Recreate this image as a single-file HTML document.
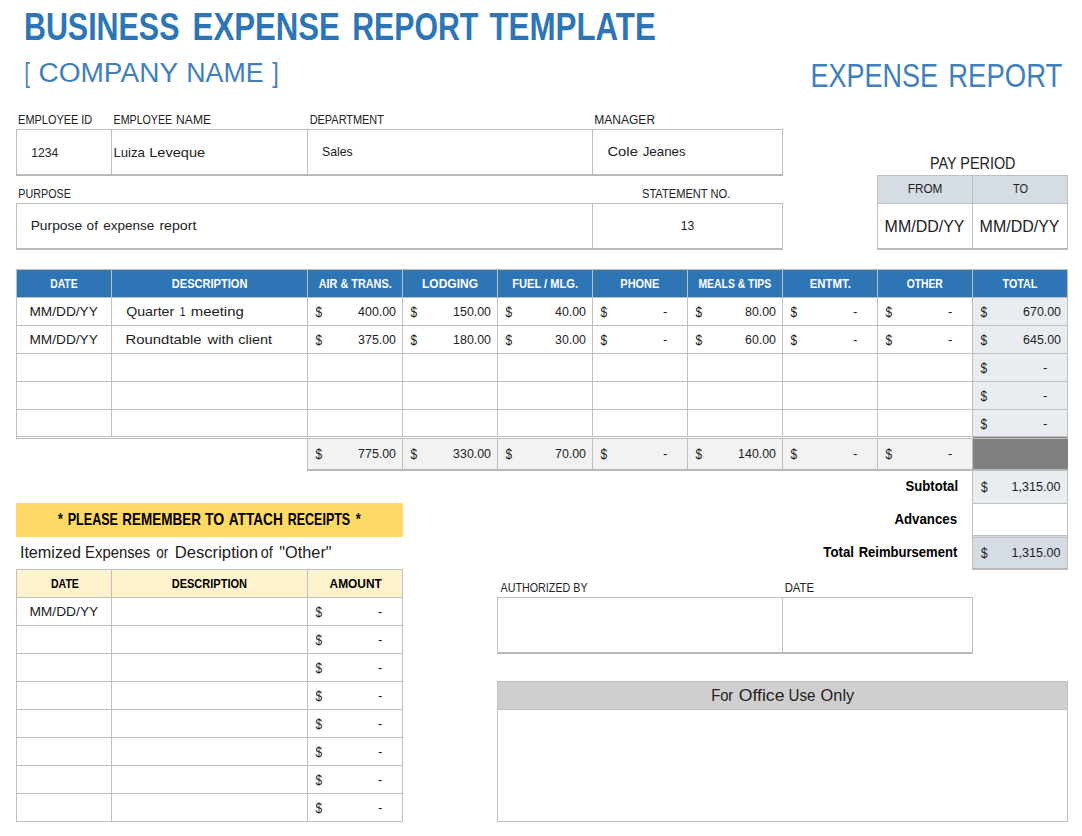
<!DOCTYPE html>
<html><head><meta charset="utf-8"><style>
html,body{margin:0;padding:0;background:#fff;width:1082px;height:836px;overflow:hidden}
svg{display:block;font-family:"Liberation Sans",sans-serif}
</style></head><body>
<svg width="1082" height="836" viewBox="0 0 1082 836">
<g shape-rendering="crispEdges">
<rect x="878" y="176" width="94" height="27" fill="#D6DCE4"/>
<rect x="973" y="176" width="94" height="27" fill="#D6DCE4"/>
<rect x="17" y="270" width="1050" height="27" fill="#2E75B6"/>
<rect x="973" y="298" width="94" height="139" fill="#E9EDF2"/>
<rect x="308" y="439" width="664" height="30" fill="#F2F2F2"/>
<rect x="973" y="437" width="95" height="32" fill="#808080"/>
<rect x="973" y="471" width="94" height="32" fill="#E9EDF2"/>
<rect x="973" y="536" width="94" height="32" fill="#D6DCE4"/>
<rect x="16" y="503" width="387" height="34" fill="#FFD966"/>
<rect x="17" y="570" width="385" height="27" fill="#FFF2CC"/>
<rect x="498" y="682" width="569" height="27" fill="#D0CECE"/>
<rect x="16" y="129" width="767" height="1" fill="#BFBFBF"/>
<rect x="16" y="129" width="1" height="47" fill="#BFBFBF"/>
<rect x="111" y="129" width="1" height="47" fill="#BFBFBF"/>
<rect x="307" y="129" width="1" height="47" fill="#BFBFBF"/>
<rect x="592" y="129" width="1" height="47" fill="#BFBFBF"/>
<rect x="782" y="129" width="1" height="47" fill="#BFBFBF"/>
<rect x="16" y="203" width="767" height="1" fill="#BFBFBF"/>
<rect x="16" y="203" width="1" height="47" fill="#BFBFBF"/>
<rect x="592" y="203" width="1" height="47" fill="#BFBFBF"/>
<rect x="782" y="203" width="1" height="47" fill="#BFBFBF"/>
<rect x="877" y="175" width="191" height="1" fill="#BFBFBF"/>
<rect x="877" y="203" width="191" height="1" fill="#BFBFBF"/>
<rect x="877" y="175" width="1" height="75" fill="#BFBFBF"/>
<rect x="972" y="175" width="1" height="75" fill="#BFBFBF"/>
<rect x="1067" y="175" width="1" height="75" fill="#BFBFBF"/>
<rect x="16" y="269" width="1052" height="1" fill="#BFBFBF"/>
<rect x="16" y="297" width="1052" height="1" fill="#BFBFBF"/>
<rect x="16" y="325" width="1052" height="1" fill="#BFBFBF"/>
<rect x="16" y="353" width="1052" height="1" fill="#BFBFBF"/>
<rect x="16" y="381" width="1052" height="1" fill="#BFBFBF"/>
<rect x="16" y="409" width="1052" height="1" fill="#BFBFBF"/>
<rect x="16" y="436" width="1052" height="1" fill="#BFBFBF"/>
<rect x="16" y="438" width="1052" height="1" fill="#BFBFBF"/>
<rect x="16" y="269" width="1" height="170" fill="#BFBFBF"/>
<rect x="111" y="269" width="1" height="168" fill="#BFBFBF"/>
<rect x="307" y="269" width="1" height="168" fill="#BFBFBF"/>
<rect x="402" y="269" width="1" height="168" fill="#BFBFBF"/>
<rect x="497" y="269" width="1" height="168" fill="#BFBFBF"/>
<rect x="592" y="269" width="1" height="168" fill="#BFBFBF"/>
<rect x="687" y="269" width="1" height="168" fill="#BFBFBF"/>
<rect x="782" y="269" width="1" height="168" fill="#BFBFBF"/>
<rect x="877" y="269" width="1" height="168" fill="#BFBFBF"/>
<rect x="972" y="269" width="1" height="168" fill="#BFBFBF"/>
<rect x="1067" y="269" width="1" height="170" fill="#BFBFBF"/>
<rect x="307" y="438" width="1" height="33" fill="#BFBFBF"/>
<rect x="402" y="438" width="1" height="33" fill="#BFBFBF"/>
<rect x="497" y="438" width="1" height="33" fill="#BFBFBF"/>
<rect x="592" y="438" width="1" height="33" fill="#BFBFBF"/>
<rect x="687" y="438" width="1" height="33" fill="#BFBFBF"/>
<rect x="782" y="438" width="1" height="33" fill="#BFBFBF"/>
<rect x="877" y="438" width="1" height="33" fill="#BFBFBF"/>
<rect x="972" y="438" width="1" height="33" fill="#BFBFBF"/>
<rect x="1067" y="438" width="1" height="33" fill="#BFBFBF"/>
<rect x="972" y="471" width="1" height="99" fill="#BFBFBF"/>
<rect x="1067" y="471" width="1" height="99" fill="#BFBFBF"/>
<rect x="972" y="503" width="96" height="1" fill="#BFBFBF"/>
<rect x="972" y="535" width="96" height="1" fill="#BFBFBF"/>
<rect x="972" y="537" width="96" height="1" fill="#BFBFBF"/>
<rect x="16" y="569" width="387" height="1" fill="#BFBFBF"/>
<rect x="16" y="597" width="387" height="1" fill="#BFBFBF"/>
<rect x="16" y="625" width="387" height="1" fill="#BFBFBF"/>
<rect x="16" y="653" width="387" height="1" fill="#BFBFBF"/>
<rect x="16" y="681" width="387" height="1" fill="#BFBFBF"/>
<rect x="16" y="709" width="387" height="1" fill="#BFBFBF"/>
<rect x="16" y="737" width="387" height="1" fill="#BFBFBF"/>
<rect x="16" y="765" width="387" height="1" fill="#BFBFBF"/>
<rect x="16" y="793" width="387" height="1" fill="#BFBFBF"/>
<rect x="16" y="821" width="387" height="1" fill="#BFBFBF"/>
<rect x="16" y="569" width="1" height="253" fill="#BFBFBF"/>
<rect x="111" y="569" width="1" height="253" fill="#BFBFBF"/>
<rect x="307" y="569" width="1" height="253" fill="#BFBFBF"/>
<rect x="402" y="569" width="1" height="253" fill="#BFBFBF"/>
<rect x="497" y="597" width="476" height="1" fill="#BFBFBF"/>
<rect x="497" y="597" width="1" height="57" fill="#BFBFBF"/>
<rect x="782" y="597" width="1" height="57" fill="#BFBFBF"/>
<rect x="972" y="597" width="1" height="57" fill="#BFBFBF"/>
<rect x="497" y="681" width="571" height="1" fill="#BFBFBF"/>
<rect x="497" y="709" width="571" height="1" fill="#BFBFBF"/>
<rect x="497" y="821" width="571" height="1" fill="#BFBFBF"/>
<rect x="497" y="681" width="1" height="141" fill="#BFBFBF"/>
<rect x="1067" y="681" width="1" height="141" fill="#BFBFBF"/>
<rect x="16" y="174" width="767" height="2" fill="#B8B8B8"/>
<rect x="16" y="248" width="767" height="2" fill="#B8B8B8"/>
<rect x="877" y="248" width="191" height="2" fill="#B8B8B8"/>
<rect x="307" y="469" width="761" height="2" fill="#B8B8B8"/>
<rect x="972" y="568" width="96" height="2" fill="#B8B8B8"/>
<rect x="497" y="652" width="476" height="2" fill="#B8B8B8"/>
<rect x="1067" y="439" width="1" height="30" fill="#808080"/>
</g>
<text transform="translate(23.95 40) scale(0.7759 1)" font-size="39.2" font-weight="700" fill="#2E75B6">BUSINESS</text>
<text transform="translate(192.61 40) scale(0.7951 1)" font-size="39.2" font-weight="700" fill="#2E75B6">EXPENSE</text>
<text transform="translate(352.16 40) scale(0.7722 1)" font-size="39.2" font-weight="700" fill="#2E75B6">REPORT</text>
<text transform="translate(489.40 40) scale(0.7995 1)" font-size="39.2" font-weight="700" fill="#2E75B6">TEMPLATE</text>
<text transform="translate(24.50 82) scale(0.7000 1)" font-size="27.6" fill="#3F80BC">[</text>
<text transform="translate(38.38 82) scale(1.0172 1)" font-size="27.6" fill="#3F80BC">COMPANY</text>
<text transform="translate(186.26 82) scale(0.9700 1)" font-size="27.6" fill="#3F80BC">NAME</text>
<text transform="translate(272.30 82) scale(0.8500 1)" font-size="27.6" fill="#3F80BC">]</text>
<text transform="translate(810.38 87) scale(0.8092 1)" font-size="33.4" fill="#3F80BC">EXPENSE</text>
<text transform="translate(948.25 87) scale(0.8234 1)" font-size="33.4" fill="#3F80BC">REPORT</text>
<text transform="translate(18.09 124.4) scale(0.8057 1)" font-size="13.6" fill="#222">EMPLOYEE ID</text>
<text transform="translate(113.62 124.4) scale(0.7826 1)" font-size="13.6" fill="#222">EMPLOYEE</text>
<text transform="translate(176.11 124.4) scale(0.8899 1)" font-size="13.6" fill="#222">NAME</text>
<text transform="translate(309.70 124.4) scale(0.8036 1)" font-size="13.6" fill="#222">DEPARTMENT</text>
<text transform="translate(594.32 124.4) scale(0.8835 1)" font-size="13.6" fill="#222">MANAGER</text>
<text transform="translate(31.29 156.5) scale(0.9066 1)" font-size="13.4" fill="#222">1234</text>
<text transform="translate(113.42 156.5) scale(0.9821 1)" font-size="13.4" fill="#222">Luiza</text>
<text transform="translate(149.21 156.5) scale(1.0895 1)" font-size="13.4" fill="#222">Leveque</text>
<text transform="translate(322.00 156) scale(0.9171 1)" font-size="13.4" fill="#222">Sales</text>
<text transform="translate(607.40 156) scale(1.1073 1)" font-size="13.4" fill="#222">Cole</text>
<text transform="translate(642.70 156) scale(0.9958 1)" font-size="13.4" fill="#222">Jeanes</text>
<text transform="translate(18.31 198.2) scale(0.7904 1)" font-size="13.6" fill="#222">PURPOSE</text>
<text transform="translate(642.00 198.2) scale(0.8179 1)" font-size="13.6" fill="#222">STATEMENT NO.</text>
<text transform="translate(30.67 230) scale(1.0304 1)" font-size="13.4" fill="#222">Purpose</text>
<text transform="translate(86.60 230) scale(1.0133 1)" font-size="13.4" fill="#222">of</text>
<text transform="translate(103.20 230) scale(1.0104 1)" font-size="13.4" fill="#222">expense</text>
<text transform="translate(159.40 230) scale(1.0550 1)" font-size="13.4" fill="#222">report</text>
<text transform="translate(680.79 230.1) scale(0.9072 1)" font-size="13.4" fill="#222">13</text>
<text transform="translate(929.90 169) scale(0.9001 1)" font-size="16" fill="#222">PAY PERIOD</text>
<text transform="translate(907.71 193) scale(0.8931 1)" font-size="13.2" fill="#222">FROM</text>
<text transform="translate(1013.00 193) scale(0.8307 1)" font-size="13.2" fill="#222">TO</text>
<text transform="translate(884.61 232) scale(0.9858 1)" font-size="16.2" fill="#222">MM/DD/YY</text>
<text transform="translate(979.61 232) scale(0.9858 1)" font-size="16.2" fill="#222">MM/DD/YY</text>
<text transform="translate(50.15 288.2) scale(0.7971 1)" font-size="13.0" font-weight="700" fill="#fff">DATE</text>
<text transform="translate(171.80 288.2) scale(0.8524 1)" font-size="13.0" font-weight="700" fill="#fff">DESCRIPTION</text>
<text transform="translate(318.70 288.2) scale(0.8366 1)" font-size="13.0" font-weight="700" fill="#fff">AIR &amp; TRANS.</text>
<text transform="translate(422.05 288.2) scale(0.9232 1)" font-size="13.0" font-weight="700" fill="#fff">LODGING</text>
<text transform="translate(512.30 288.2) scale(0.8531 1)" font-size="13.0" font-weight="700" fill="#fff">FUEL / MLG.</text>
<text transform="translate(620.35 288.2) scale(0.8441 1)" font-size="13.0" font-weight="700" fill="#fff">PHONE</text>
<text transform="translate(698.40 288.2) scale(0.8014 1)" font-size="13.0" font-weight="700" fill="#fff">MEALS &amp; TIPS</text>
<text transform="translate(809.70 288.2) scale(0.8763 1)" font-size="13.0" font-weight="700" fill="#fff">ENTMT.</text>
<text transform="translate(906.70 288.2) scale(0.7937 1)" font-size="13.0" font-weight="700" fill="#fff">OTHER</text>
<text transform="translate(1002.60 288.2) scale(0.8250 1)" font-size="13.0" font-weight="700" fill="#fff">TOTAL</text>
<text transform="translate(29.39 315.9) scale(1.0074 1)" font-size="13.6" fill="#222">MM/DD/YY</text>
<text transform="translate(29.39 343.9) scale(1.0074 1)" font-size="13.6" fill="#222">MM/DD/YY</text>
<text transform="translate(126.20 315.9) scale(1.0417 1)" font-size="13.6" fill="#222">Quarter</text>
<text transform="translate(179.85 315.9) scale(0.7500 1)" font-size="13.6" fill="#222">1</text>
<text transform="translate(190.70 315.9) scale(1.0983 1)" font-size="13.6" fill="#222">meeting</text>
<text transform="translate(125.61 343.9) scale(1.0930 1)" font-size="13.6" fill="#222">Roundtable</text>
<text transform="translate(207.58 343.9) scale(1.0807 1)" font-size="13.6" fill="#222">with</text>
<text transform="translate(238.30 343.9) scale(1.0639 1)" font-size="13.6" fill="#222">client</text>
<text transform="translate(315.60 316.7) scale(0.8200 1)" font-size="14.6" fill="#222">$</text>
<text transform="translate(358.10 315.9) scale(0.9400 1)" font-size="13.2" fill="#222">400.00</text>
<text transform="translate(410.60 316.7) scale(0.8200 1)" font-size="14.6" fill="#222">$</text>
<text transform="translate(453.10 315.9) scale(0.9400 1)" font-size="13.2" fill="#222">150.00</text>
<text transform="translate(505.60 316.7) scale(0.8200 1)" font-size="14.6" fill="#222">$</text>
<text transform="translate(554.99 315.9) scale(0.9400 1)" font-size="13.2" fill="#222">40.00</text>
<text transform="translate(600.60 316.7) scale(0.8200 1)" font-size="14.6" fill="#222">$</text>
<text transform="translate(663.00 315.9) scale(1.0000 1)" font-size="13.2" fill="#222">-</text>
<text transform="translate(695.60 316.7) scale(0.8200 1)" font-size="14.6" fill="#222">$</text>
<text transform="translate(744.99 315.9) scale(0.9400 1)" font-size="13.2" fill="#222">80.00</text>
<text transform="translate(790.60 316.7) scale(0.8200 1)" font-size="14.6" fill="#222">$</text>
<text transform="translate(853.00 315.9) scale(1.0000 1)" font-size="13.2" fill="#222">-</text>
<text transform="translate(885.60 316.7) scale(0.8200 1)" font-size="14.6" fill="#222">$</text>
<text transform="translate(948.00 315.9) scale(1.0000 1)" font-size="13.2" fill="#222">-</text>
<text transform="translate(980.60 316.7) scale(0.8200 1)" font-size="14.6" fill="#222">$</text>
<text transform="translate(1023.10 315.9) scale(0.9400 1)" font-size="13.2" fill="#222">670.00</text>
<text transform="translate(315.60 344.7) scale(0.8200 1)" font-size="14.6" fill="#222">$</text>
<text transform="translate(358.10 343.9) scale(0.9400 1)" font-size="13.2" fill="#222">375.00</text>
<text transform="translate(410.60 344.7) scale(0.8200 1)" font-size="14.6" fill="#222">$</text>
<text transform="translate(453.10 343.9) scale(0.9400 1)" font-size="13.2" fill="#222">180.00</text>
<text transform="translate(505.60 344.7) scale(0.8200 1)" font-size="14.6" fill="#222">$</text>
<text transform="translate(554.99 343.9) scale(0.9400 1)" font-size="13.2" fill="#222">30.00</text>
<text transform="translate(600.60 344.7) scale(0.8200 1)" font-size="14.6" fill="#222">$</text>
<text transform="translate(663.00 343.9) scale(1.0000 1)" font-size="13.2" fill="#222">-</text>
<text transform="translate(695.60 344.7) scale(0.8200 1)" font-size="14.6" fill="#222">$</text>
<text transform="translate(744.99 343.9) scale(0.9400 1)" font-size="13.2" fill="#222">60.00</text>
<text transform="translate(790.60 344.7) scale(0.8200 1)" font-size="14.6" fill="#222">$</text>
<text transform="translate(853.00 343.9) scale(1.0000 1)" font-size="13.2" fill="#222">-</text>
<text transform="translate(885.60 344.7) scale(0.8200 1)" font-size="14.6" fill="#222">$</text>
<text transform="translate(948.00 343.9) scale(1.0000 1)" font-size="13.2" fill="#222">-</text>
<text transform="translate(980.60 344.7) scale(0.8200 1)" font-size="14.6" fill="#222">$</text>
<text transform="translate(1023.10 343.9) scale(0.9400 1)" font-size="13.2" fill="#222">645.00</text>
<text transform="translate(980.60 372.7) scale(0.8200 1)" font-size="14.6" fill="#222">$</text>
<text transform="translate(1043.00 371.9) scale(1.0000 1)" font-size="13.2" fill="#222">-</text>
<text transform="translate(980.60 400.7) scale(0.8200 1)" font-size="14.6" fill="#222">$</text>
<text transform="translate(1043.00 399.9) scale(1.0000 1)" font-size="13.2" fill="#222">-</text>
<text transform="translate(980.60 428.7) scale(0.8200 1)" font-size="14.6" fill="#222">$</text>
<text transform="translate(1043.00 427.9) scale(1.0000 1)" font-size="13.2" fill="#222">-</text>
<text transform="translate(315.60 458.5) scale(0.8200 1)" font-size="14.6" fill="#222">$</text>
<text transform="translate(358.10 457.7) scale(0.9400 1)" font-size="13.2" fill="#222">775.00</text>
<text transform="translate(410.60 458.5) scale(0.8200 1)" font-size="14.6" fill="#222">$</text>
<text transform="translate(453.10 457.7) scale(0.9400 1)" font-size="13.2" fill="#222">330.00</text>
<text transform="translate(505.60 458.5) scale(0.8200 1)" font-size="14.6" fill="#222">$</text>
<text transform="translate(554.99 457.7) scale(0.9400 1)" font-size="13.2" fill="#222">70.00</text>
<text transform="translate(600.60 458.5) scale(0.8200 1)" font-size="14.6" fill="#222">$</text>
<text transform="translate(663.00 457.7) scale(1.0000 1)" font-size="13.2" fill="#222">-</text>
<text transform="translate(695.60 458.5) scale(0.8200 1)" font-size="14.6" fill="#222">$</text>
<text transform="translate(738.10 457.7) scale(0.9400 1)" font-size="13.2" fill="#222">140.00</text>
<text transform="translate(790.60 458.5) scale(0.8200 1)" font-size="14.6" fill="#222">$</text>
<text transform="translate(853.00 457.7) scale(1.0000 1)" font-size="13.2" fill="#222">-</text>
<text transform="translate(885.60 458.5) scale(0.8200 1)" font-size="14.6" fill="#222">$</text>
<text transform="translate(948.00 457.7) scale(1.0000 1)" font-size="13.2" fill="#222">-</text>
<text transform="translate(905.60 491.2) scale(0.9247 1)" font-size="14.2" font-weight="700" fill="#000">Subtotal</text>
<text transform="translate(894.40 524.4) scale(0.9354 1)" font-size="14.2" font-weight="700" fill="#000">Advances</text>
<text transform="translate(823.30 557.3) scale(0.9344 1)" font-size="14.2" font-weight="700" fill="#000">Total</text>
<text transform="translate(858.70 557.3) scale(0.9191 1)" font-size="14.2" font-weight="700" fill="#000">Reimbursement</text>
<text transform="translate(981.00 492.0) scale(0.8200 1)" font-size="14.6" fill="#222">$</text>
<text transform="translate(1011.60 491.2) scale(0.9668 1)" font-size="13.0" fill="#222">1,315.00</text>
<text transform="translate(981.00 558.0999999999999) scale(0.8200 1)" font-size="14.6" fill="#222">$</text>
<text transform="translate(1011.60 557.3) scale(0.9668 1)" font-size="13.0" fill="#222">1,315.00</text>
<text transform="translate(58.10 525.1) scale(0.7857 1)" font-size="15.6" font-weight="700" fill="#000">*</text>
<text transform="translate(67.69 525.1) scale(0.8067 1)" font-size="15.6" font-weight="700" fill="#000">PLEASE</text>
<text transform="translate(122.33 525.1) scale(0.8651 1)" font-size="15.6" font-weight="700" fill="#000">REMEMBER</text>
<text transform="translate(205.00 525.1) scale(0.9038 1)" font-size="15.6" font-weight="700" fill="#000">TO</text>
<text transform="translate(228.70 525.1) scale(0.8762 1)" font-size="15.6" font-weight="700" fill="#000">ATTACH</text>
<text transform="translate(287.70 525.1) scale(0.8017 1)" font-size="15.6" font-weight="700" fill="#000">RECEIPTS</text>
<text transform="translate(355.80 525.1) scale(0.8143 1)" font-size="15.6" font-weight="700" fill="#000">*</text>
<text transform="translate(19.89 558.1) scale(1.0108 1)" font-size="16" fill="#222">Itemized</text>
<text transform="translate(85.07 558.1) scale(0.9283 1)" font-size="16" fill="#222">Expenses</text>
<text transform="translate(156.20 558.1) scale(0.8457 1)" font-size="16" fill="#222">or</text>
<text transform="translate(174.66 558.1) scale(1.0418 1)" font-size="16" fill="#222">Description</text>
<text transform="translate(260.80 558.1) scale(0.8994 1)" font-size="16" fill="#222">of</text>
<text transform="translate(279.30 558.1) scale(1.0198 1)" font-size="16" fill="#222">&quot;Other&quot;</text>
<text transform="translate(51.00 588.4) scale(0.8086 1)" font-size="13.0" font-weight="700" fill="#000">DATE</text>
<text transform="translate(171.70 588.4) scale(0.8479 1)" font-size="13.0" font-weight="700" fill="#000">DESCRIPTION</text>
<text transform="translate(329.60 588.4) scale(0.9158 1)" font-size="13.0" font-weight="700" fill="#000">AMOUNT</text>
<text transform="translate(29.39 615.8) scale(1.0134 1)" font-size="13.6" fill="#222">MM/DD/YY</text>
<text transform="translate(315.60 616.5999999999999) scale(0.8200 1)" font-size="14.6" fill="#222">$</text>
<text transform="translate(378.00 615.8) scale(1.0000 1)" font-size="13.2" fill="#222">-</text>
<text transform="translate(315.60 644.5999999999999) scale(0.8200 1)" font-size="14.6" fill="#222">$</text>
<text transform="translate(378.00 643.8) scale(1.0000 1)" font-size="13.2" fill="#222">-</text>
<text transform="translate(315.60 672.5999999999999) scale(0.8200 1)" font-size="14.6" fill="#222">$</text>
<text transform="translate(378.00 671.8) scale(1.0000 1)" font-size="13.2" fill="#222">-</text>
<text transform="translate(315.60 700.5999999999999) scale(0.8200 1)" font-size="14.6" fill="#222">$</text>
<text transform="translate(378.00 699.8) scale(1.0000 1)" font-size="13.2" fill="#222">-</text>
<text transform="translate(315.60 728.5999999999999) scale(0.8200 1)" font-size="14.6" fill="#222">$</text>
<text transform="translate(378.00 727.8) scale(1.0000 1)" font-size="13.2" fill="#222">-</text>
<text transform="translate(315.60 756.5999999999999) scale(0.8200 1)" font-size="14.6" fill="#222">$</text>
<text transform="translate(378.00 755.8) scale(1.0000 1)" font-size="13.2" fill="#222">-</text>
<text transform="translate(315.60 784.5999999999999) scale(0.8200 1)" font-size="14.6" fill="#222">$</text>
<text transform="translate(378.00 783.8) scale(1.0000 1)" font-size="13.2" fill="#222">-</text>
<text transform="translate(315.60 812.5999999999999) scale(0.8200 1)" font-size="14.6" fill="#222">$</text>
<text transform="translate(378.00 811.8) scale(1.0000 1)" font-size="13.2" fill="#222">-</text>
<text transform="translate(500.50 591.9) scale(0.7904 1)" font-size="13.6" fill="#222">AUTHORIZED BY</text>
<text transform="translate(784.66 591.9) scale(0.8368 1)" font-size="13.6" fill="#222">DATE</text>
<text transform="translate(711.13 700.8) scale(0.8696 1)" font-size="17.0" fill="#222">For</text>
<text transform="translate(738.70 700.8) scale(1.0381 1)" font-size="17.0" fill="#222">Office</text>
<text transform="translate(788.61 700.8) scale(0.8896 1)" font-size="17.0" fill="#222">Use</text>
<text transform="translate(820.60 700.8) scale(0.9618 1)" font-size="17.0" fill="#222">Only</text>
</svg>
</body></html>
